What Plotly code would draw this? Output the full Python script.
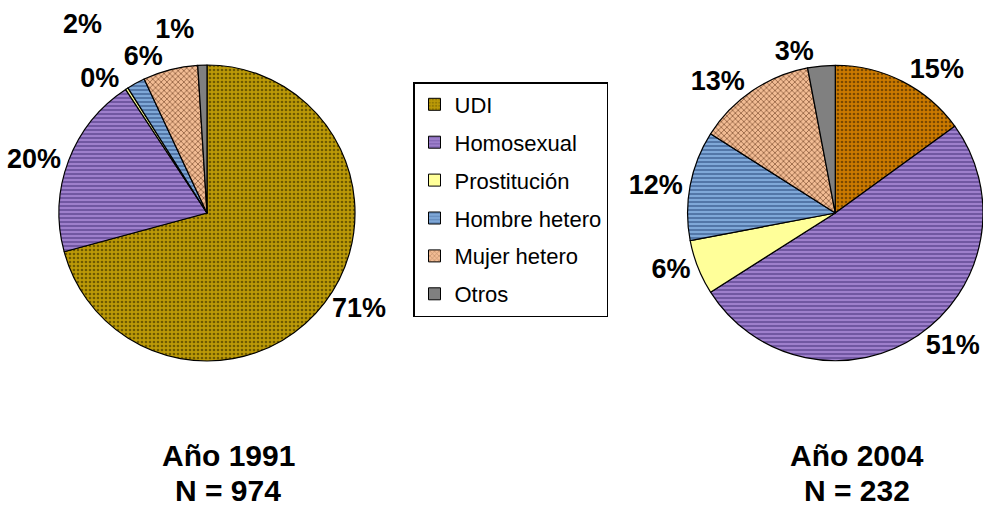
import plotly.graph_objects as go

categories = ["UDI", "Homosexual", "Prostitución", "Hombre hetero", "Mujer hetero", "Otros"]
values_1991 = [71, 20, 0.3, 2, 6, 1]
values_2004 = [15, 51, 6, 12, 13, 3]
years = ["Año 1991", "Año 2004"]
n_labels = ["N = 974", "N = 232"]

colors_1991 = ["#BC9A08", "#9E7FCC", "#FFFF99", "#7FA8D8", "#F2BC94", "#808080"]
colors_2004 = ["#CC7A00", "#9E7FCC", "#FFFF99", "#7FA8D8", "#F2BC94", "#808080"]
fg_1991 = ["#6E5A00", "#5E4590", "#FFFF99", "#3F6294", "#8A5A3A", "#808080"]
fg_2004 = ["#7A4800", "#5E4590", "#FFFF99", "#3F6294", "#8A5A3A", "#808080"]
shapes = [".", "-", "", "-", "x", ""]

FONT = "Arial, Liberation Sans, sans-serif"
LABEL_FONT = dict(family=FONT, size=27, color="black", weight="bold")

# percentage labels are split over overlaid (transparent) pies so that Plotly
# does not stack neighbouring small-slice labels; (slice indices, label offset)
label_layers_1991 = [([0, 1, 2], 0.0), ([3], 0.37), ([4], 0.0), ([5], 0.14)]
label_layers_2004 = [([0, 1, 2, 3], 0.0), ([4], 0.0), ([5], 0.0)]

W, H = 983, 509
HALF_X, HALF_Y = 148 / W, 148 / H


def pct_text(vals, keep):
    tot = sum(vals)
    return [f"{round(v / tot * 100)}%" if i in keep else "" for i, v in enumerate(vals)]


def add_pie(fig, vals, cols, fgs, cx, cy, layers):
    for k, (keep, pull) in enumerate(layers):
        base = k == 0
        hx, hy = HALF_X * (1 + pull), HALF_Y * (1 + pull)
        fig.add_trace(go.Pie(
            labels=categories, values=vals, sort=False, direction="clockwise", rotation=0,
            domain=dict(x=[max(0, cx - hx), min(1, cx + hx)], y=[cy - hy, cy + hy]),
            automargin=False, pull=pull,
            marker=dict(colors=cols if base else ["rgba(0,0,0,0)"] * len(vals),
                        line=dict(color="black", width=1.2 if base else 0),
                        pattern=dict(shape=shapes, fgcolor=fgs, bgcolor=cols, size=4, solidity=0.35)
                        if base else None),
            text=pct_text(vals, keep), textinfo="text", textposition="outside",
            outsidetextfont=LABEL_FONT,
            showlegend=False,
            hoverinfo="label+percent" if base else "skip",
        ))


fig = go.Figure()
add_pie(fig, values_1991, colors_1991, fg_1991, 207 / W, 1 - 213 / H, label_layers_1991)
add_pie(fig, values_2004, colors_2004, fg_2004, 0.85, 1 - 213 / H, label_layers_2004)

# legend entries (patterned swatches like the pie slices)
for cat, col, fg, shp in zip(categories, colors_1991, fg_1991, shapes):
    fig.add_trace(go.Bar(x=[None], y=[None], name=cat, legendgroup=cat,
                         marker=dict(color=col, line=dict(color="black", width=1),
                                     pattern=dict(shape=shp, fgcolor=fg, bgcolor=col, size=4, solidity=0.35)),
                         showlegend=True, hoverinfo="skip"))

for xc, yr, nl in zip([228 / W, 857 / W], years, n_labels):
    fig.add_annotation(text="<b>" + yr + "</b>", x=xc, y=1 - 455 / H, xref="paper", yref="paper",
                       xanchor="center", yanchor="middle", showarrow=False,
                       font=dict(family=FONT, size=30, color="black"))
    fig.add_annotation(text="<b>" + nl + "</b>", x=xc, y=1 - 490 / H, xref="paper", yref="paper",
                       xanchor="center", yanchor="middle", showarrow=False,
                       font=dict(family=FONT, size=30, color="black"))

fig.update_layout(
    width=W, height=H, margin=dict(l=0, r=0, t=0, b=0, pad=0, autoexpand=False),
    paper_bgcolor="white", plot_bgcolor="white",
    xaxis=dict(visible=False), yaxis=dict(visible=False),
    legend=dict(x=413 / W, y=1 - 82 / H, xanchor="left", yanchor="top",
                bordercolor="black", borderwidth=1.5, bgcolor="white",
                traceorder="grouped", tracegroupgap=6.3,
                font=dict(family=FONT, size=22, color="black")),
)
fig.write_html("out.html", config={"displayModeBar": False},
               post_script="document.body.style.margin='0';")
